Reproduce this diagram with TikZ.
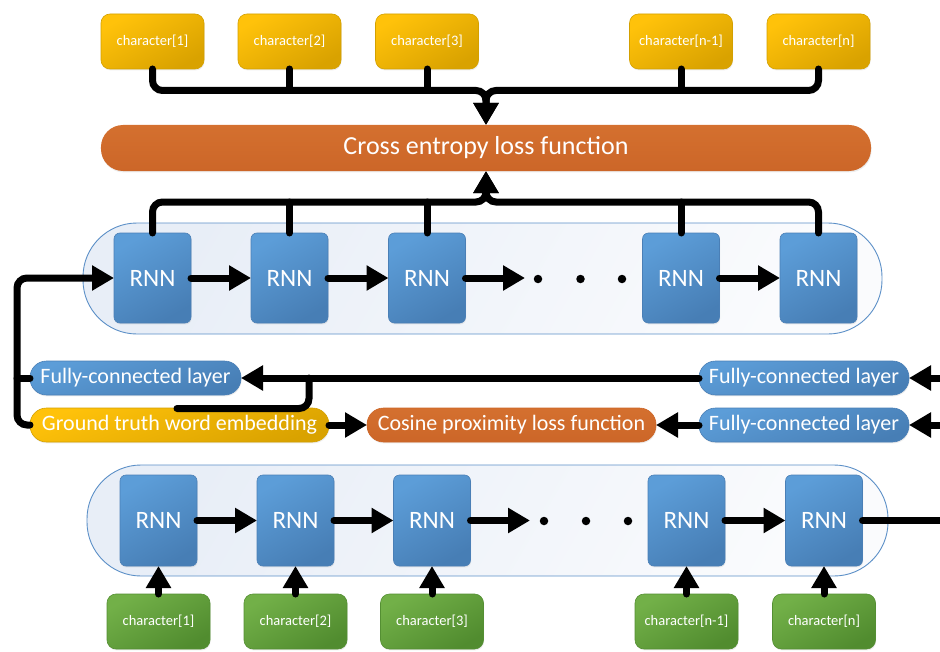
\documentclass[tikz,border=0pt]{standalone}
\usepackage{fontspec}
\setmainfont{Carlito}
\usetikzlibrary{arrows.meta,shadows}

\definecolor{ygA}{HTML}{FFC20A}
\definecolor{ygB}{HTML}{D9A200}
\definecolor{ygL}{HTML}{D3A000}
\definecolor{orA}{HTML}{D4702F}
\definecolor{orB}{HTML}{CC6628}
\definecolor{blA}{HTML}{5C9DD8}
\definecolor{blB}{HTML}{477EB5}
\definecolor{blL}{HTML}{4A7FB6}
\definecolor{grA}{HTML}{72B048}
\definecolor{grB}{HTML}{518C2F}
\definecolor{grL}{HTML}{548F33}
\definecolor{frame}{HTML}{5B8FC7}
\definecolor{panA}{HTML}{E8EEF7}
\definecolor{panB}{HTML}{FAFBFD}

\begin{document}
\begin{tikzpicture}[x=1bp,y=-1bp,
  every node/.style={inner sep=0pt, outer sep=0pt, text=white},
  softshadow/.style={drop shadow={opacity=0.15, shadow xshift=0.6bp, shadow yshift=-1.4bp}},
  charbox/.style={rounded corners=9bp, minimum width=103bp, minimum height=55bp,
    font=\fontsize{14.5bp}{17bp}\selectfont, line width=0.6bp, softshadow},
  targetchar/.style={charbox, draw=ygL, top color=ygA, bottom color=ygB, shading angle=30},
  inputchar/.style={charbox, draw=grL, top color=grA, bottom color=grB, shading angle=30},
  rnn/.style={rounded corners=6bp, minimum width=77bp, minimum height=90bp,
    font=\fontsize{25bp}{30bp}\selectfont, draw=blL, line width=0.6bp,
    top color=blA, bottom color=blB, shading angle=30, softshadow},
  pill/.style={rounded corners=16.5bp, minimum height=34bp,
    font=\fontsize{22bp}{26bp}\selectfont, line width=0.6bp, softshadow},
  bluepill/.style={pill, draw=blL, top color=blA, bottom color=blB, shading angle=20},
  goldpill/.style={pill, draw=ygL, top color=ygA, bottom color=ygB, shading angle=20},
  lossbar/.style={rounded corners=22bp, top color=orA, bottom color=orB, softshadow},
  panel/.style={rounded corners=54bp, draw=frame, line width=0.9bp,
    top color=panA, bottom color=panB, shading angle=60},
  dot/.style={circle, fill=black, minimum size=8.5bp},
  conn/.style={line width=7bp, line cap=round, rounded corners=10bp, draw=black},
  arr/.style={conn, -{Triangle[length=22bp,width=24bp]}}
]
\useasboundingbox (0,0) rectangle (940,652);

% panels holding the two RNN chains
\node[panel, minimum width=799bp, minimum height=111bp] (decpanel) at (482.5,278.5) {};
\node[panel, minimum width=801bp, minimum height=111bp] (encpanel) at (487.5,520.5) {};

% target characters
\node[targetchar] (c1) at (152.5,41.5) {character[1]};
\node[targetchar] (c2) at (289.5,41.5) {character[2]};
\node[targetchar] (c3) at (427,41.5) {character[3]};
\node[targetchar] (c4) at (681,41.5) {character[n-1]};
\node[targetchar] (c5) at (818.5,41.5) {character[n]};

% cross entropy loss
\node[lossbar, minimum width=770bp, minimum height=46bp,
  font=\fontsize{26bp}{30bp}\selectfont] (ce) at (486,148) {Cross entropy loss function};

% decoder RNNs
\node[rnn] (u1) at (152.5,278) {RNN};
\node[rnn] (u2) at (289.5,278) {RNN};
\node[rnn] (u3) at (427,278) {RNN};
\node[rnn] (u4) at (681,278) {RNN};
\node[rnn] (u5) at (818.5,278) {RNN};
\node[dot] (ua) at (538,279) {};
\node[dot] (ub) at (580.5,279) {};
\node[dot] (uc) at (622,279) {};

% middle layer
\node[bluepill, minimum width=211bp] (fcL) at (135.5,378) {Fully-connected layer};
\node[goldpill, minimum width=299bp] (gt) at (179.5,425) {Ground truth word embedding};
\node[pill, minimum width=289bp, top color=orA, bottom color=orB, draw=orB] (cos) at (511.5,425) {Cosine proximity loss function};
\node[bluepill, minimum width=210bp] (fcR1) at (804,378) {Fully-connected layer};
\node[bluepill, minimum width=210bp] (fcR2) at (804,425) {Fully-connected layer};

% encoder RNNs
\node[rnn, minimum height=91bp] (l1) at (158.5,520.5) {RNN};
\node[rnn, minimum height=91bp] (l2) at (295.5,520.5) {RNN};
\node[rnn, minimum height=91bp] (l3) at (432,520.5) {RNN};
\node[rnn, minimum height=91bp] (l4) at (686.5,520.5) {RNN};
\node[rnn, minimum height=91bp] (l5) at (824,520.5) {RNN};
\node[dot] (la) at (544,521) {};
\node[dot] (lb) at (586,521) {};
\node[dot] (lc) at (628,521) {};

% input characters
\node[inputchar] (g1) at (158.5,621.5) {character[1]};
\node[inputchar] (g2) at (295.5,621.5) {character[2]};
\node[inputchar] (g3) at (432,621.5) {character[3]};
\node[inputchar] (g4) at (686.5,621.5) {character[n-1]};
\node[inputchar] (g5) at (824,621.5) {character[n]};

% junction points and free ends
\coordinate (tj) at (486,90.5);
\coordinate (bj) at (486,202);
\coordinate (loopA) at (17,425);
\coordinate (loopB) at (17,278);
\coordinate (hookS) at (177,408.5);
\coordinate (hookC) at (309,408.5);
\coordinate (inR1) at (960,378);
\coordinate (inR2) at (960,425);
\coordinate (encout) at (960,520.5);
\coordinate (udots) at (525,278);
\coordinate (ldots) at (530,520.5);

% target characters into the cross entropy loss
\draw[arr] (c1.south) -- (c1.south |- tj) -- (tj) -- (ce.north);
\draw[arr] (c5.south) -- (c5.south |- tj) -- (tj) -- (ce.north);
\draw[conn] (c2.south) -- (c2.south |- tj);
\draw[conn] (c3.south) -- (c3.south |- tj);
\draw[conn] (c4.south) -- (c4.south |- tj);

% decoder outputs into the cross entropy loss
\draw[arr] (u1.north) -- (u1.north |- bj) -- (bj) -- (ce.south);
\draw[arr] (u5.north) -- (u5.north |- bj) -- (bj) -- (ce.south);
\draw[conn] (u2.north) -- (u2.north |- bj);
\draw[conn] (u3.north) -- (u3.north |- bj);
\draw[conn] (u4.north) -- (u4.north |- bj);

% decoder chain
\draw[arr] (u1.east) -- (u2.west);
\draw[arr] (u2.east) -- (u3.west);
\draw[arr] (u3.east) -- (udots);
\draw[arr] (u4.east) -- (u5.west);

% feedback into the decoder
\draw[arr] (gt.west) -- (loopA) -- (loopB) -- (u1.west);
\draw[conn, rounded corners=0pt] (fcL.west) -- (fcL.west -| loopA);

% middle connections
\draw[arr] (fcR1.west) -- (fcL.east);
\draw[conn] (hookS) -- (hookC) -- (hookC |- fcL.east);
\draw[arr] (gt.east) -- (cos.west);
\draw[arr] (fcR2.west) -- (cos.east);
\draw[arr] (inR1) -- (fcR1.east);
\draw[arr] (inR2) -- (fcR2.east);

% encoder chain
\draw[arr] (l1.east) -- (l2.west);
\draw[arr] (l2.east) -- (l3.west);
\draw[arr] (l3.east) -- (ldots);
\draw[arr] (l4.east) -- (l5.west);
\draw[conn] (l5.east) -- (encout);

% input characters into the encoder
\draw[arr] (g1.north) -- (l1.south);
\draw[arr] (g2.north) -- (l2.south);
\draw[arr] (g3.north) -- (l3.south);
\draw[arr] (g4.north) -- (l4.south);
\draw[arr] (g5.north) -- (l5.south);
\end{tikzpicture}
\end{document}
